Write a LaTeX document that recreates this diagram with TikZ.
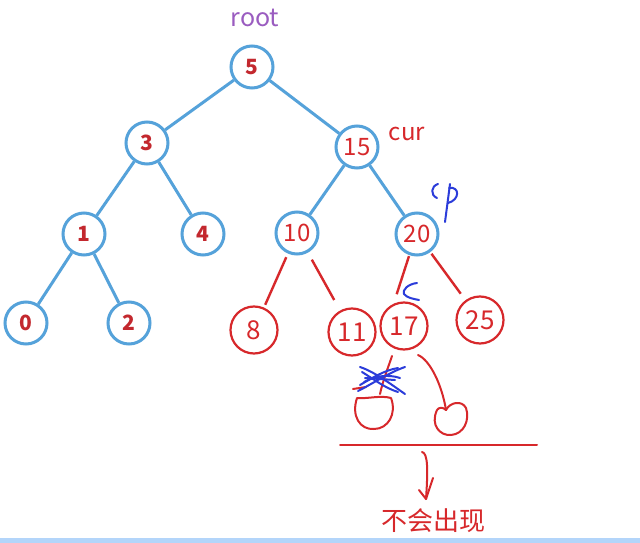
\documentclass[tikz,border=0pt]{standalone}
\usepackage{fontspec}
\setmainfont{Noto Sans CJK SC}
\usetikzlibrary{arrows.meta}
\definecolor{treeblue}{HTML}{55A2DA}
\definecolor{numred}{HTML}{C3282E}
\definecolor{inkred}{HTML}{D7282B}
\definecolor{rootpurple}{HTML}{9A5CC0}
\definecolor{penblue}{HTML}{2B3CDA}
\definecolor{bandblue}{HTML}{B3D5FA}
\tikzset{
  bnode/.style={circle, draw=treeblue, line width=3pt, minimum size=42pt, inner sep=0pt,
    text=numred, font=\fontsize{21}{21}\selectfont\bfseries},
  bnodeR/.style={bnode, font=\fontsize{24}{24}\selectfont, text=inkred},
  rnode/.style={circle, draw=inkred, line width=2.2pt, minimum size=47pt, inner sep=0pt,
    text=inkred, font=\fontsize{26}{26}\selectfont},
  bedge/.style={draw=treeblue, line width=3pt},
  redge/.style={draw=inkred, line width=2.4pt},
  ink/.style={draw=inkred, line width=2pt, line cap=round, line join=round},
  pen/.style={draw=penblue, line width=2pt, line cap=round, line join=round},
}
\begin{document}
\begin{tikzpicture}[x=1pt, y=-1pt]
\useasboundingbox (0,0) rectangle (640,543);
\fill[white] (0,0) rectangle (640,543);
\fill[bandblue] (0,538) rectangle (640,543);

% tree nodes
\node[bnode] (n5) at (252,67) {5};
\node[bnode] (n3) at (147,143) {3};
\node[bnodeR] (n15) at (357,147) {15};
\node[bnode] (n1) at (84,234) {1};
\node[bnode] (n4) at (203,234) {4};
\node[bnodeR] (n10) at (297,233) {10};
\node[bnodeR] (n20) at (417,234) {20};
\node[bnode] (n0) at (26,323) {0};
\node[bnode] (n2) at (129,323) {2};

\node[rnode] (n8) at (254,330) {8};
\node[rnode] (n11) at (352,332) {11};
\node[rnode] (n17) at (404,326) {17};
\node[rnode] (n25) at (480,320) {25};

% labels
\node[text=rootpurple, font=\fontsize{25}{25}\selectfont] (root) at (255,18) {root};
\node[text=inkred, font=\fontsize{24}{24}\selectfont] (cur) at (407,134) {cur};
\node[text=inkred, font=\fontsize{26}{26}\selectfont] (never) at (433,521) {不会出现};

% blue edges
\draw[bedge] (n5) -- (n3);
\draw[bedge] (n5) -- (n15);
\draw[bedge] (n3) -- (n1);
\draw[bedge] (n3) -- (n4);
\draw[bedge] (n15) -- (n10);
\draw[bedge] (n15) -- (n20);
\draw[bedge] (n1) -- (n0);
\draw[bedge] (n1) -- (n2);

% red edges
\draw[redge, shorten <=4pt, shorten >=3pt] (n10) -- (n8);
\draw[redge, shorten <=8pt, shorten >=12pt] (n10) -- (n11);
\draw[redge, shorten <=1pt, shorten >=10pt] (n20.250) -- (n17.115);
\draw[redge, shorten <=2pt, shorten >=8pt] (n20) -- (n25);

% handwritten blue marks
\draw[pen] (438,184) .. controls (431,186) and (430,195) .. (437,198);
\draw[pen] (450,184) -- (445,222);
\draw[pen] (449,188) .. controls (460,186) and (460,200) .. (448,203);
\draw[pen] (417,283) .. controls (408,284) and (402,290) .. (404,294) .. controls (407,298) and (414,299) .. (419,300);

% lower scribbles (red)
\draw[ink] (392,356) .. controls (388,368) and (383,380) .. (380,394);
\draw[ink] (353,389) -- (366,387);
\draw[ink] (357,398) .. controls (351,416) and (360,430) .. (374,429)
           .. controls (388,429) and (397,414) .. (391,398)
           .. controls (380,395) and (368,399) .. (357,398);
\draw[ink] (418,355) .. controls (430,360) and (442,385) .. (446,410);
\draw[ink] (437,410) .. controls (430,425) and (440,436) .. (451,435)
           .. controls (464,434) and (470,420) .. (466,408)
           .. controls (462,400) and (450,402) .. (446,410)
           .. controls (443,407) and (439,407) .. (437,410);
\draw[ink] (340,445) -- (537,445);
\coordinate (arrS) at (422,452);
\coordinate (arrE) at (426,499);
\draw[ink] (arrS) .. controls (428,453) and (428,470) .. (arrE);
\draw[ink] (419,490) -- (arrE) -- (433,478);

% blue cross-out scribble
\draw[pen] (360,367) .. controls (375,372) and (392,385) .. (405,394);
\draw[pen] (358,391) .. controls (372,384) and (390,372) .. (405,367);
\draw[pen] (362,372) .. controls (375,380) and (385,388) .. (398,392);
\draw[pen] (360,385) .. controls (372,378) and (385,370) .. (398,368);
\draw[pen] (365,378) -- (395,380);
\draw[pen] (364,382) .. controls (375,376) and (388,374) .. (400,378);
\end{tikzpicture}
\end{document}
